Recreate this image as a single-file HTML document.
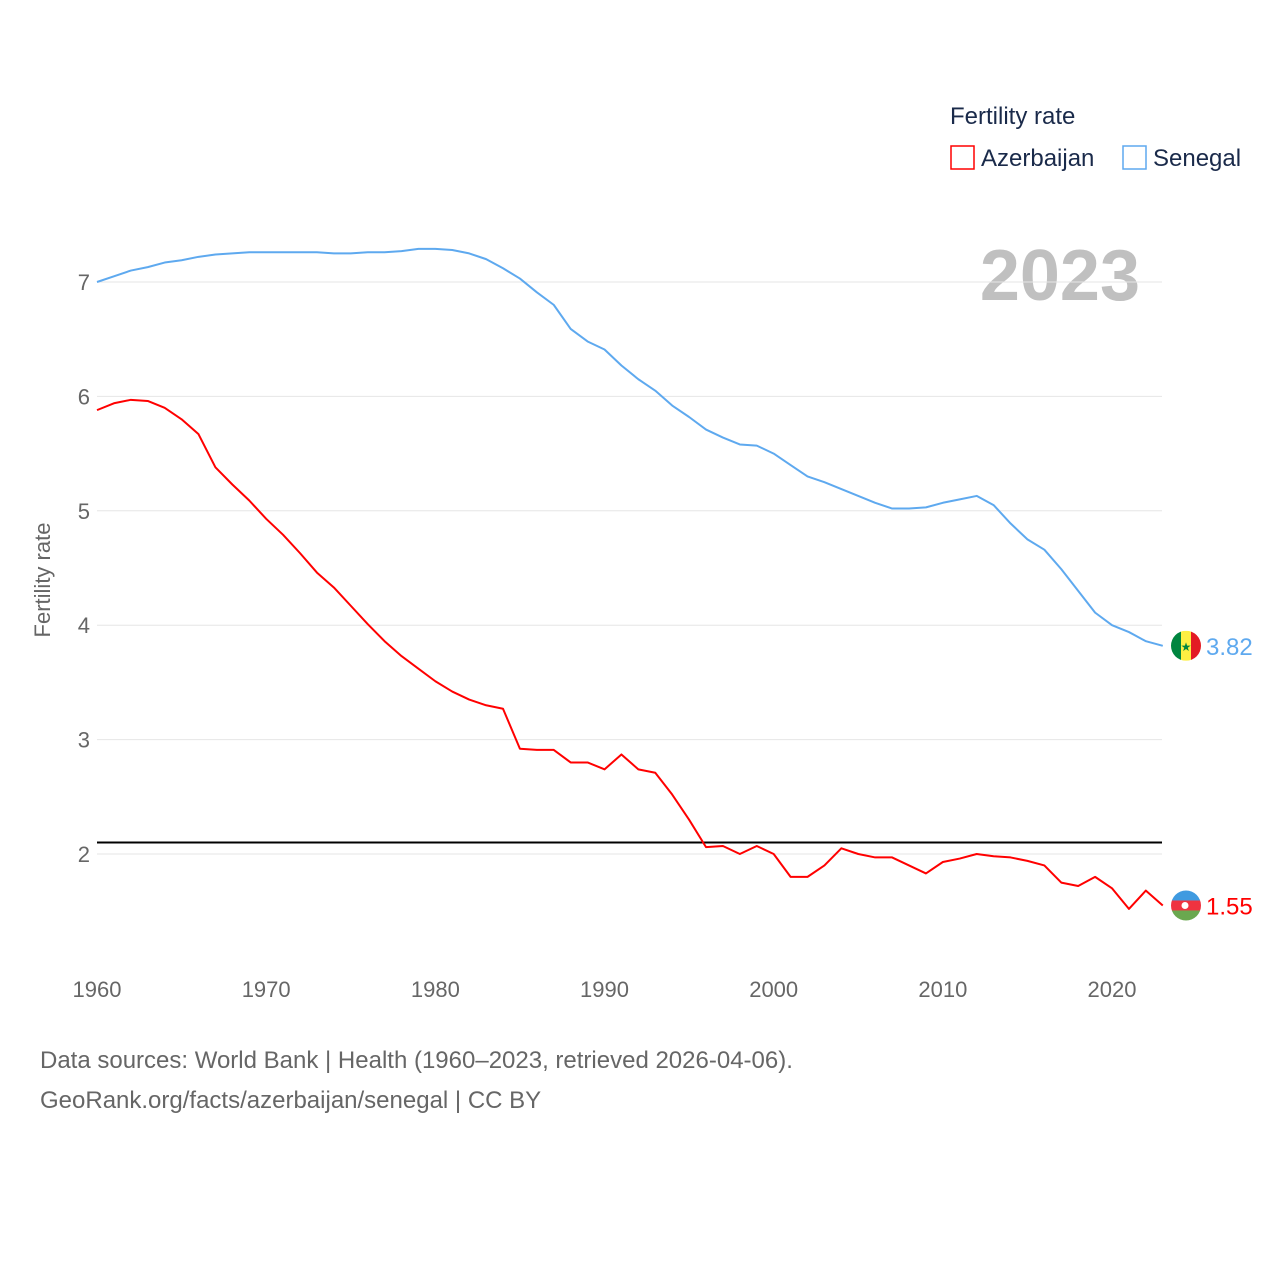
<!DOCTYPE html>
<html><head><meta charset="utf-8">
<style>
body{margin:0;background:#fff;font-family:"Liberation Sans",sans-serif;}
svg{display:block}
</style></head>
<body>
<svg id="chart" width="1280" height="1280" viewBox="0 0 1280 1280">
<text x="950" y="124" font-size="24" fill="#1a2a4a">Fertility rate</text>
<rect x="951" y="146" width="23" height="23" fill="none" stroke="#ff0000" stroke-width="1.5"/>
<text x="981" y="166" font-size="24" fill="#1a2a4a">Azerbaijan</text>
<rect x="1123" y="146" width="23" height="23" fill="none" stroke="#5ea9ef" stroke-width="1.5"/>
<text x="1153" y="166" font-size="24" fill="#1a2a4a">Senegal</text>
<text x="1140" y="300" font-size="72" font-weight="bold" fill="#c0c0c0" text-anchor="end">2023</text>
<text transform="translate(50,580) rotate(-90)" font-size="22" fill="#666" text-anchor="middle">Fertility rate</text>
<g id="grid"></g><g id="series"></g>
<text x="40" y="1068" font-size="24" fill="#666">Data sources: World Bank | Health (1960–2023, retrieved 2026-04-06).</text>
<text x="40" y="1108" font-size="24" fill="#666">GeoRank.org/facts/azerbaijan/senegal | CC BY</text>
</svg>
<script>
const years=[];for(let y=1960;y<=2023;y++)years.push(y);
const senegal=[7.00,7.05,7.10,7.13,7.17,7.19,7.22,7.24,7.25,7.26,7.26,7.26,7.26,7.26,7.25,7.25,7.26,7.26,7.27,7.29,7.29,7.28,7.25,7.20,7.12,7.03,6.91,6.80,6.59,6.48,6.41,6.27,6.15,6.05,5.92,5.82,5.71,5.64,5.58,5.57,5.50,5.40,5.30,5.25,5.19,5.13,5.07,5.02,5.02,5.03,5.07,5.10,5.13,5.05,4.89,4.75,4.66,4.49,4.30,4.11,4.00,3.94,3.86,3.82];
const azerbaijan=[5.88,5.94,5.97,5.96,5.90,5.80,5.67,5.38,5.23,5.09,4.93,4.79,4.63,4.46,4.33,4.17,4.01,3.86,3.73,3.62,3.51,3.42,3.35,3.30,3.27,2.92,2.91,2.91,2.80,2.80,2.74,2.87,2.74,2.71,2.52,2.30,2.06,2.07,2.00,2.07,2.00,1.80,1.80,1.90,2.05,2.00,1.97,1.97,1.90,1.83,1.93,1.96,2.00,1.98,1.97,1.94,1.90,1.75,1.72,1.80,1.70,1.52,1.68,1.55];
const yTicks=[2,3,4,5,6,7];
const xTicks=[1960,1970,1980,1990,2000,2010,2020];
const replacement=2.1;
const NS="http://www.w3.org/2000/svg";
const X=v=>97+(v-1960)*16.917;
const Y=v=>854-(v-2)*114.4;
function mk(tag,attrs,parent,txt){const e=document.createElementNS(NS,tag);for(const k in attrs)e.setAttribute(k,attrs[k]);if(txt!=null)e.textContent=txt;parent.appendChild(e);return e;}
const grid=document.getElementById('grid'),ser=document.getElementById('series');
yTicks.forEach(t=>{
 const l=mk('line',{x1:97,x2:1162,y1:Y(t),y2:Y(t),stroke:'#e6e6e6','stroke-width':1},grid);
 
 
 const tx=mk('text',{x:90,y:Y(t)+8,'font-size':22,fill:'#666','text-anchor':'end'},grid,t);
 
 
});
xTicks.forEach(t=>{
 const tx=mk('text',{x:X(t),y:997,'font-size':22,fill:'#666','text-anchor':'middle'},grid,t);
 
 
});
const rl=mk('line',{x1:97,x2:1162,y1:Y(replacement),y2:Y(replacement),stroke:'#000','stroke-width':2},ser);


function line(vals,color,name){
 const p=mk('polyline',{points:vals.map((v,i)=>X(years[i])+','+Y(v)).join(' '),fill:'none',stroke:color,'stroke-width':2,'stroke-linejoin':'round'},ser);
 
 
 const last=vals[vals.length-1];
 const t=mk('text',{x:1206,y:Y(last)+9,'font-size':24,fill:color},ser,last.toFixed(2));
 
 
 return Y(last);
}
const ys=line(senegal,'#5ea9ef','senegal');
const ya=line(azerbaijan,'#ff0000','azerbaijan');
// Senegal flag
const fs=mk('g',{},ser);


mk('clipPath',{id:'cs'},fs).appendChild(Object.assign(document.createElementNS(NS,'circle'),{}));
const cs=fs.querySelector('clipPath circle');cs.setAttribute('cx',1186);cs.setAttribute('cy',ys);cs.setAttribute('r',15);
const gs=mk('g',{'clip-path':'url(#cs)'},fs);
mk('rect',{x:1171,y:ys-15,width:10,height:30,fill:'#00853f'},gs);
mk('rect',{x:1181,y:ys-15,width:10,height:30,fill:'#fdef42'},gs);
mk('rect',{x:1191,y:ys-15,width:10,height:30,fill:'#e31b23'},gs);
mk('text',{x:1186,y:ys+5,'font-size':12,fill:'#00853f','text-anchor':'middle'},gs,'★');
// Azerbaijan flag
const fa=mk('g',{},ser);


const ca=mk('clipPath',{id:'ca'},fa);mk('circle',{cx:1186,cy:ya,r:15},ca);
const ga=mk('g',{'clip-path':'url(#ca)'},fa);
mk('rect',{x:1171,y:ya-15,width:30,height:10,fill:'#3f9ae0'},ga);
mk('rect',{x:1171,y:ya-5,width:30,height:10,fill:'#ef3340'},ga);
mk('rect',{x:1171,y:ya+5,width:30,height:10,fill:'#6aa84f'},ga);
mk('circle',{cx:1185,cy:ya,r:3.5,fill:'#fff'},ga);
</script>
</body></html>
